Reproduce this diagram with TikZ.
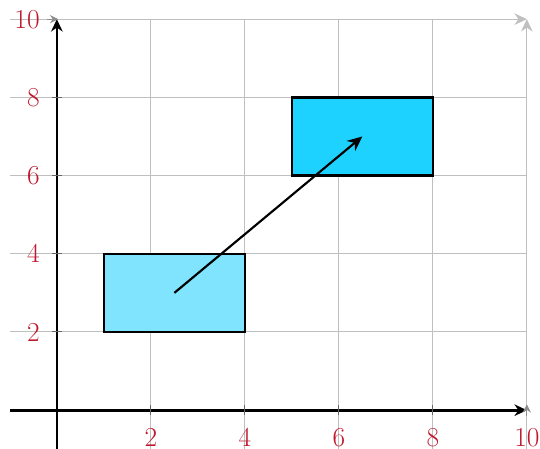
\documentclass[tikz,border=0pt]{standalone}
\usetikzlibrary{arrows.meta}
\definecolor{lblred}{RGB}{190,25,45}
\definecolor{boxdark}{RGB}{30,210,255}
\definecolor{boxlight}{RGB}{128,228,255}
\begin{document}
\begin{tikzpicture}[x=1cm,y=0.832cm,
  gridline/.style={draw=black!25,line width=0.6pt},
  axisline/.style={draw=black,line width=1.6pt,-{Stealth[length=7.5pt,width=7pt]}},
  tickline/.style={draw=black!60,line width=0.6pt},
  ticktip/.style={draw=black!45,line width=0.6pt,-{Stealth[length=5pt,width=5pt]}},
  gridtip/.style={draw=black!25,line width=0.6pt,-{Stealth[length=7.5pt,width=7pt]}},
  lbl/.style={text=lblred,font=\fontsize{16.6}{20}\selectfont,inner sep=0pt},
  boxshape/.style={draw=black,line width=1.4pt},
  vec/.style={draw=black,line width=1.3pt,-{Stealth[length=9pt,width=8pt]}}]
\useasboundingbox (-1.21,-0.97) rectangle (10.28,10.49);
% grid
\foreach \x in {2,4,6,8} \draw[gridline] (\x,-1) -- (\x,10);
\foreach \y in {2,4,6,8} \draw[gridline] (-1,\y) -- (10,\y);
\coordinate (gA) at (-1,10);
\coordinate (gB) at (10,10);
\coordinate (gC) at (10,-1);
\draw[gridtip] (gA) -- (gB);
\draw[gridtip] (gC) -- (gB);
% boxes
\node[boxshape,fill=boxlight,minimum width=3cm,minimum height=1.664cm,inner sep=0pt] (low) at (2.5,3) {};
\node[boxshape,fill=boxdark,minimum width=3cm,minimum height=1.664cm,inner sep=0pt] (high) at (6.5,7) {};
% axes
\coordinate (xs) at (-1,0);
\coordinate (xe) at (10,0);
\coordinate (ys) at (0,-1);
\coordinate (ye) at (0,10);
\draw[axisline] (xs) -- (xe);
\draw[axisline] (ys) -- (ye);
% ticks and labels
\foreach \v in {2,4,6,8} {
  \draw[tickline] (\v,-0.13) -- (\v,0.13);
  \draw[tickline] (-0.1,\v) -- (0.1,\v);
  \node[lbl] (xl\v) at (\v,-0.69) {\v};
  \node[lbl,anchor=east] (yl\v) at (-0.36,\v) {\v};
}
\draw[ticktip] (10,-0.15) -- (10,0.15);
\draw[ticktip] (-0.2,10) -- (0.03,10);
\node[lbl] (xl10) at (10,-0.69) {10};
\node[lbl,anchor=east] (yl10) at (-0.36,10) {10};
% vector
\coordinate (vs) at (2.5,3);
\coordinate (ve) at (6.5,7);
\draw[vec] (vs) -- (ve);
\end{tikzpicture}
\end{document}
